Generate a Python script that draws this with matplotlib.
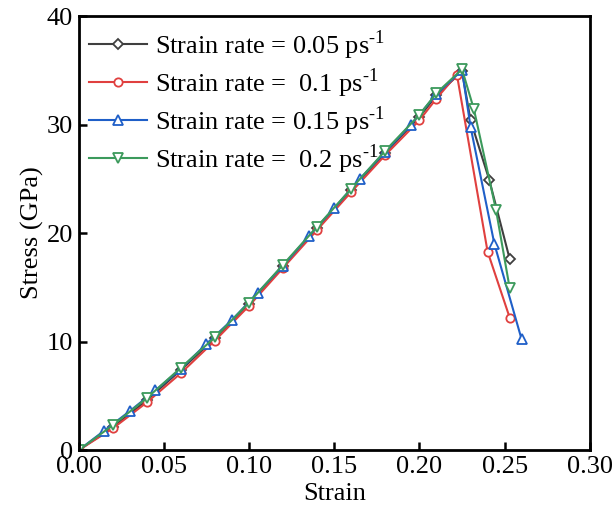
import matplotlib
matplotlib.use("Agg")
import matplotlib.pyplot as plt

plt.rcParams["font.family"] = ["Liberation Serif", "DejaVu Serif"]
plt.rcParams["mathtext.fontset"] = "custom"
plt.rcParams["mathtext.rm"] = "Liberation Serif"

# strain / stress (GPa)
strain_005 = [0, 0.02, 0.04, 0.06, 0.08, 0.10, 0.12, 0.14, 0.16, 0.18, 0.20, 0.21, 0.225, 0.23, 0.241, 0.253]
stress_005 = [0, 2.1, 4.6, 7.4, 10.3, 13.5, 17.0, 20.5, 24.0, 27.4, 30.7, 32.7, 34.9, 30.4, 24.9, 17.6]

strain_01 = [0, 0.02, 0.04, 0.06, 0.08, 0.10, 0.12, 0.14, 0.16, 0.18, 0.20, 0.21, 0.222, 0.24, 0.253]
stress_01 = [0, 2.0, 4.4, 7.1, 10.1, 13.3, 16.8, 20.3, 23.8, 27.2, 30.4, 32.4, 34.6, 18.3, 12.2]

strain_015 = [0, 0.015, 0.03, 0.045, 0.06, 0.075, 0.09, 0.105, 0.12, 0.135, 0.15, 0.165, 0.18, 0.195, 0.21, 0.225, 0.23, 0.244, 0.26]
stress_015 = [0, 1.8, 3.6, 5.5, 7.5, 9.8, 12.0, 14.5, 17.0, 19.7, 22.3, 25.0, 27.5, 30.0, 32.8, 35.0, 29.8, 19.0, 10.2]

strain_02 = [0, 0.02, 0.04, 0.06, 0.08, 0.10, 0.12, 0.14, 0.16, 0.18, 0.20, 0.21, 0.225, 0.232, 0.245, 0.253]
stress_02 = [0, 2.3, 4.8, 7.6, 10.4, 13.6, 17.1, 20.6, 24.1, 27.6, 30.9, 32.9, 35.1, 31.4, 22.1, 14.9]

labels = [
    "Strain rate = 0.05 ps$^{\\text{-1}}$",
    "Strain rate =  0.1 ps$^{\\text{-1}}$",
    "Strain rate = 0.15 ps$^{\\text{-1}}$",
    "Strain rate =  0.2 ps$^{\\text{-1}}$",
]
colors = ["#3f3f3f", "#e0403f", "#1f5fc8", "#3c9a5c"]
markers = ["D", "o", "^", "v"]
msizes = [5, 6, 7, 7]

series = [(strain_005, stress_005), (strain_01, stress_01),
          (strain_015, stress_015), (strain_02, stress_02)]

fig = plt.figure(figsize=(6.15, 5.18), dpi=100)
ax = fig.add_axes([0.128, 0.131, 0.831, 0.838])

for (x, y), lab, c, m, ms in zip(series, labels, colors, markers, msizes):
    ax.plot(x, y, color=c, marker=m, markersize=ms, markerfacecolor="white",
            markeredgecolor=c, markeredgewidth=1.3, linewidth=1.5, label=lab)

ax.set_xlim(0, 0.30)
ax.set_ylim(0, 40)
ax.set_xticks([0, 0.05, 0.10, 0.15, 0.20, 0.25, 0.30])
ax.set_xticklabels(["0.00", "0.05", "0.10", "0.15", "0.20", "0.25", "0.30"])
ax.set_yticks([0, 10, 20, 30, 40])
ax.set_xlabel("Strain", fontsize=19, labelpad=4)
ax.set_ylabel("Stress (GPa)", fontsize=19, labelpad=2)
ax.tick_params(direction="in", length=6, width=1.8, labelsize=19, pad=4)
for s in ax.spines.values():
    s.set_linewidth(2)

ax.legend(loc="upper left", frameon=False, fontsize=19, handlelength=2.2,
          handletextpad=0.3, labelspacing=0.17, borderaxespad=0.0,
          borderpad=0.4, bbox_to_anchor=(0.0, 0.997))

fig.savefig("out.png", dpi=100)
